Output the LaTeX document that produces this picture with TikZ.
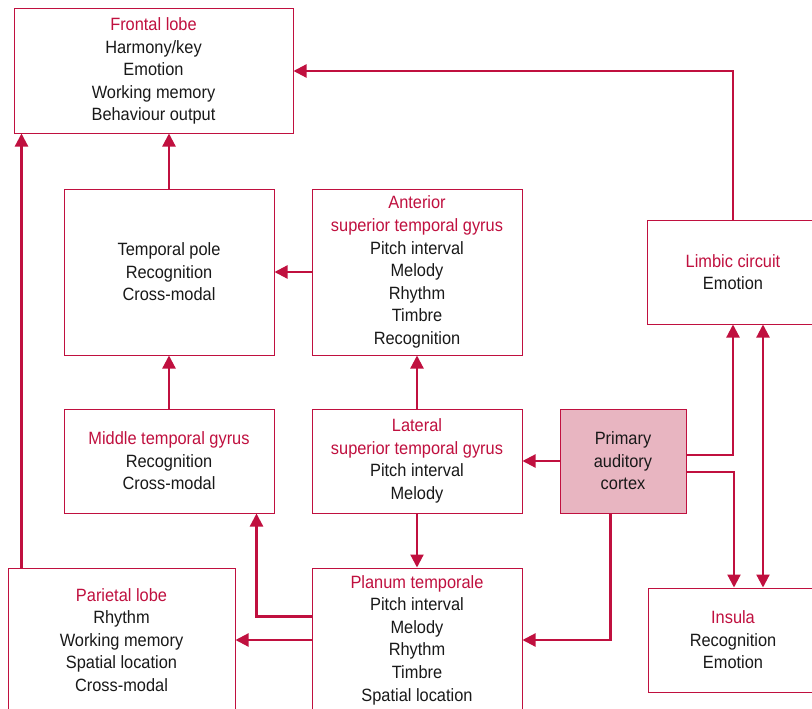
\documentclass[tikz,border=0pt]{standalone}
\usepackage{fontspec}
\setmainfont[FakeStretch=0.92]{Liberation Sans}
\usepackage{xcolor}
\usepackage{tikz}
\usetikzlibrary{positioning}
\usetikzlibrary{calc}
\usetikzlibrary{arrows.meta}
\definecolor{crim}{HTML}{C0103F}
\definecolor{pinkfill}{HTML}{E8B5C1}
\newcommand{\rtitle}[1]{\textcolor{crim}{#1}}
\tikzset{
    region/.style={draw=crim, line width=1pt, fill=white, align=center,
        inner sep=0pt, font=\fontsize{17.8}{22.6}\selectfont, text=black!90},
    link/.style={draw=crim, line width=2.2pt,
        -{Triangle[length=13pt,width=13pt]}},
    duallink/.style={draw=crim, line width=2.2pt,
        {Triangle[length=13pt,width=13pt]}-{Triangle[length=13pt,width=13pt]}}
}

\begin{document}
\begin{tikzpicture}[x=1pt,y=-1pt]
    \useasboundingbox (0,0) rectangle (812,709);

    \node[region, minimum width=279pt, minimum height=124pt] (frontal) at (153.5,71)
        {\rtitle{Frontal lobe}\\Harmony/key\\Emotion\\Working memory\\Behaviour output};
    \node[region, minimum width=210pt, minimum height=166pt] (tpole) at (169,272)
        {Temporal pole\\Recognition\\Cross-modal};
    \node[region, minimum width=210pt, minimum height=166pt] (antstg) at (417,272)
        {\rtitle{Anterior}\\\rtitle{superior temporal gyrus}\\Pitch interval\\Melody\\Rhythm\\Timbre\\Recognition};
    \node[region, minimum width=172pt, minimum height=104pt] (limbic) at (733,272)
        {\rtitle{Limbic circuit}\\Emotion};
    \node[region, minimum width=210pt, minimum height=104pt] (midtg) at (169,461)
        {\rtitle{Middle temporal gyrus}\\Recognition\\Cross-modal};
    \node[region, minimum width=210pt, minimum height=104pt] (latstg) at (417,461)
        {\rtitle{Lateral}\\\rtitle{superior temporal gyrus}\\Pitch interval\\Melody};
    \node[region, fill=pinkfill, minimum width=126pt, minimum height=104pt] (pac) at (623,461)
        {Primary\\auditory\\cortex};
    \node[region, minimum width=227pt, minimum height=144pt] (parietal) at (121.5,640)
        {\rtitle{Parietal lobe}\\Rhythm\\Working memory\\Spatial location\\Cross-modal};
    \node[region, minimum width=210pt, minimum height=144pt] (planum) at (417,640)
        {\rtitle{Planum temporale}\\Pitch interval\\Melody\\Rhythm\\Timbre\\Spatial location};
    \node[region, minimum width=170pt, minimum height=104pt] (insula) at (733,640)
        {\rtitle{Insula}\\Recognition\\Emotion};

    \draw[link] (tpole.north) -- (tpole.north |- frontal.south);
    \draw[link] ([xshift=14pt]parietal.north west) -- ([xshift=14pt]parietal.north west |- frontal.south);
    \draw[link] (limbic.north) |- (frontal.east);
    \draw[link] (antstg.west) -- (tpole.east);
    \draw[link] (midtg.north) -- (tpole.south);
    \draw[link] (latstg.north) -- (antstg.south);
    \draw[link] (pac.west) -- (pac.west -| latstg.east);
    \draw[link] (latstg.south) -- (planum.north);
    \draw[link] ([yshift=-49pt]planum.north west) -| ([xshift=-18pt]midtg.south east);
    \draw[link] (planum.west) -- (planum.west -| parietal.east);
    \draw[link] ([xshift=51pt]pac.south west) |- (planum.east);
    \draw[link] ([yshift=6pt]pac.east) -| (limbic.south);
    \draw[link] ([yshift=-11pt]pac.east) -| ([xshift=1pt]insula.north);
    \draw[duallink] ([xshift=30pt]limbic.south) -- ([xshift=30pt]insula.north);
\end{tikzpicture}
\end{document}
